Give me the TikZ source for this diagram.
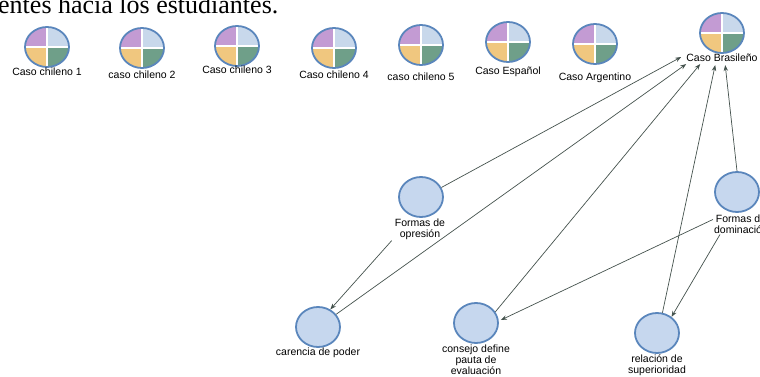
\documentclass[tikz,border=0pt]{standalone}
\usepackage{fontspec}
\setmainfont{Liberation Serif}
\setsansfont{Liberation Sans}
\usetikzlibrary{shapes.geometric,arrows.meta}

\definecolor{nodeblue}{HTML}{5A86BC}
\definecolor{nodefill}{HTML}{C6D7EE}
\definecolor{qpurple}{HTML}{C39BD3}
\definecolor{qblue}{HTML}{C8D8EB}
\definecolor{qyellow}{HTML}{F0C77F}
\definecolor{qgreen}{HTML}{6F9F89}
\definecolor{edgegray}{HTML}{44524D}

\tikzset{
    concept/.style={ellipse, minimum width=44pt, minimum height=40pt, inner sep=0pt,
        draw=nodeblue, line width=1.8pt, fill=nodefill},
    caso/.style={concept, fill=none, path picture={
        \fill[qpurple] (path picture bounding box.center) rectangle (path picture bounding box.north west);
        \fill[qblue] (path picture bounding box.center) rectangle (path picture bounding box.north east);
        \fill[qyellow] (path picture bounding box.center) rectangle (path picture bounding box.south west);
        \fill[qgreen] (path picture bounding box.center) rectangle (path picture bounding box.south east);
        \draw[white, line width=2.2pt] (path picture bounding box.north) -- (path picture bounding box.south)
            (path picture bounding box.west) -- (path picture bounding box.east);
    }},
    tag/.style={font=\sffamily\fontsize{10.5}{11}\selectfont, align=center, inner sep=1pt},
    link/.style={-{Stealth[length=6pt,width=4.5pt]}, draw=edgegray, line width=0.7pt}
}

\begin{document}
\begin{tikzpicture}[x=1pt, y=-1pt]
    \useasboundingbox (0,0) rectangle (760,377);

    % cut line of the page text above
    \node[anchor=base west, inner sep=0pt, font=\fontsize{26}{28}\selectfont] (pagetext) at (-2,14) {entes hacia los estudiantes.};

    % case nodes
    \node[caso] (ch1) at (47,47) {};
    \node[tag] (ch1-l) at (47,72) {Caso chileno 1};
    \node[caso] (ch2) at (142,48) {};
    \node[tag] (ch2-l) at (142,75) {caso chileno 2};
    \node[caso] (ch3) at (237,46) {};
    \node[tag] (ch3-l) at (237,70) {Caso chileno 3};
    \node[caso] (ch4) at (334,48) {};
    \node[tag] (ch4-l) at (334,75) {Caso chileno 4};
    \node[caso] (ch5) at (421,45) {};
    \node[tag] (ch5-l) at (421,77) {caso chileno 5};
    \node[caso] (esp) at (508,42) {};
    \node[tag] (esp-l) at (508,72) {Caso Español};
    \node[caso] (arg) at (595,44) {};
    \node[tag] (arg-l) at (595,78) {Caso Argentino};
    \node[caso] (bra) at (722,33) {};
    \node[tag] (bra-l) at (722,58) {Caso Brasileño};

    % concept nodes
    \node[concept] (opr) at (421,197) {};
    \node[tag] (opr-l) at (420,229) {Formas de\\opresión};
    \node[concept] (dom) at (737,192) {};
    \node[tag] (dom-l) at (741,224) {Formas de\\dominación};
    \node[concept] (con) at (476,323) {};
    \node[tag] (con-l) at (476,360) {consejo define\\pauta de\\evaluación};
    \node[concept] (rel) at (657,333) {};
    \node[tag] (rel-l) at (657,365) {relación de\\superioridad};
    \node[concept] (car) at (318,327) {};
    \node[tag] (car-l) at (318,353) {carencia de poder};

    % links
    \draw[link] (opr.25) -- ([xshift=-4pt,yshift=1pt]bra-l.west);
    \draw[link] (car.35) -- ([xshift=1pt,yshift=-1pt]bra-l.south west);
    \draw[link] ([xshift=-2pt]opr-l.south west) -- (car.55);
    \draw[link] (con.30) -- ([xshift=15pt,yshift=-1pt]bra-l.south west);
    \draw[link] (rel.75) -- ([xshift=30pt,yshift=-2pt]bra-l.south west);
    \draw[link] (dom.north) -- ([xshift=40pt,yshift=-2pt]bra-l.south west);
    \draw[link] ([yshift=-6pt]dom-l.north west) -- ([xshift=2pt,yshift=3pt]con.east);
    \draw[link] ([xshift=7pt]dom-l.south west) -- (rel.48);
\end{tikzpicture}
\end{document}
